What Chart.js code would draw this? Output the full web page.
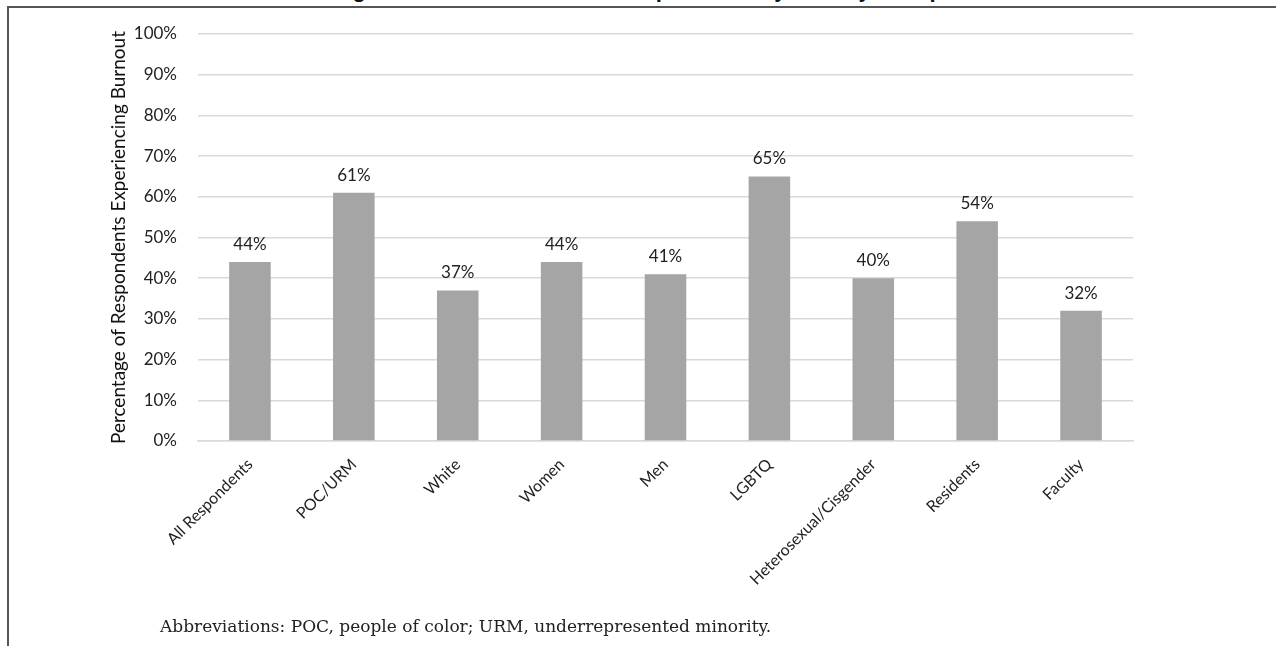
<!DOCTYPE html>
<html>
<head>
<meta charset="utf-8">
<script src="https://cdn.jsdelivr.net/npm/chart.js@4"></script>
<style>
  html, body { margin: 0; padding: 0; background: #fff; }
  #wrap { position: relative; width: 1276px; height: 646px; overflow: hidden; }
  #frame {
    position: absolute; left: 7px; top: 6px; right: 0; bottom: 0;
    border-left: 2px solid #555; border-top: 2px solid #555;
  }
  #title {
    position: absolute; left: 0; width: 1276px; top: -23px; line-height: 22px; text-align: center;
    font: bold 22px "Liberation Sans", Arial, sans-serif; color: #111;
  }
  #chartBox { position: absolute; left: 0; top: 0; width: 1276px; height: 646px; }
  #note {
    position: absolute; left: 160px; top: 616px;
    font: 17px "DejaVu Serif", "Liberation Serif", serif; color: #222;
  }
</style>
</head>
<body>
<div id="wrap">
  <div id="title">Figure 1. Burnout Rates of Respondents by Identity Group</div>
  <div id="frame"></div>
  <div id="chartBox"><canvas id="burnoutChart" width="1276" height="646"></canvas></div>
  <div id="note">Abbreviations: POC, people of color; URM, underrepresented minority.</div>
</div>
<script>
const groups = ["All Respondents", "POC/URM", "White", "Women", "Men", "LGBTQ", "Heterosexual/Cisgender", "Residents", "Faculty"];
const burnoutPct = [44, 61, 37, 44, 41, 65, 40, 54, 32];
const yTicks = [0, 10, 20, 30, 40, 50, 60, 70, 80, 90, 100];

const FONT = "Lato, 'Open Sans', sans-serif";

// writes the percentage above each bar
const barValueLabels = {
  id: "barValueLabels",
  afterDatasetsDraw(chart) {
    const ctx = chart.ctx;
    const meta = chart.getDatasetMeta(0);
    ctx.save();
    ctx.font = "17px " + FONT;
    ctx.fillStyle = "#222";
    ctx.textAlign = "center";
    ctx.textBaseline = "bottom";
    meta.data.forEach((bar, i) => {
      ctx.fillText(burnoutPct[i] + "%", bar.x, bar.y - 9);
    });
    ctx.restore();
  },
};

new Chart(document.getElementById("burnoutChart"), {
  type: "bar",
  data: {
    labels: groups,
    datasets: [{
      data: burnoutPct,
      backgroundColor: "#a5a5a5",
      barPercentage: 0.4,
      categoryPercentage: 1,
    }],
  },
  options: {
    responsive: false,
    animation: false,
    layout: { padding: { left: 107, right: 143, top: 34, bottom: 0 } },
    plugins: {
      legend: { display: false },
      tooltip: { enabled: false },
    },
    scales: {
      x: {
        afterFit: (scale) => { scale.height = 205; },
        grid: { display: false, drawTicks: false },
        border: { display: true, color: "#d9d9d9", width: 1.5 },
        ticks: {
          minRotation: 45,
          maxRotation: 45,
          padding: 14,
          color: "#222",
          font: { family: FONT, size: 16 },
        },
      },
      y: {
        min: 0,
        max: 100,
        afterFit: (scale) => { scale.width = 91; },
        afterBuildTicks: (scale) => { scale.ticks = yTicks.map((v) => ({ value: v })); },
        grid: { color: "#d9d9d9", lineWidth: 1.5, drawTicks: false },
        border: { display: false },
        ticks: {
          padding: 21,
          color: "#222",
          font: { family: FONT, size: 17 },
          callback: (v) => v + "%",
        },
        title: {
          display: true,
          text: "Percentage of Respondents Experiencing Burnout",
          color: "#111",
          padding: 0,
          font: { family: FONT, size: 19 },
        },
      },
    },
  },
  plugins: [barValueLabels],
});
</script>
</body>
</html>
